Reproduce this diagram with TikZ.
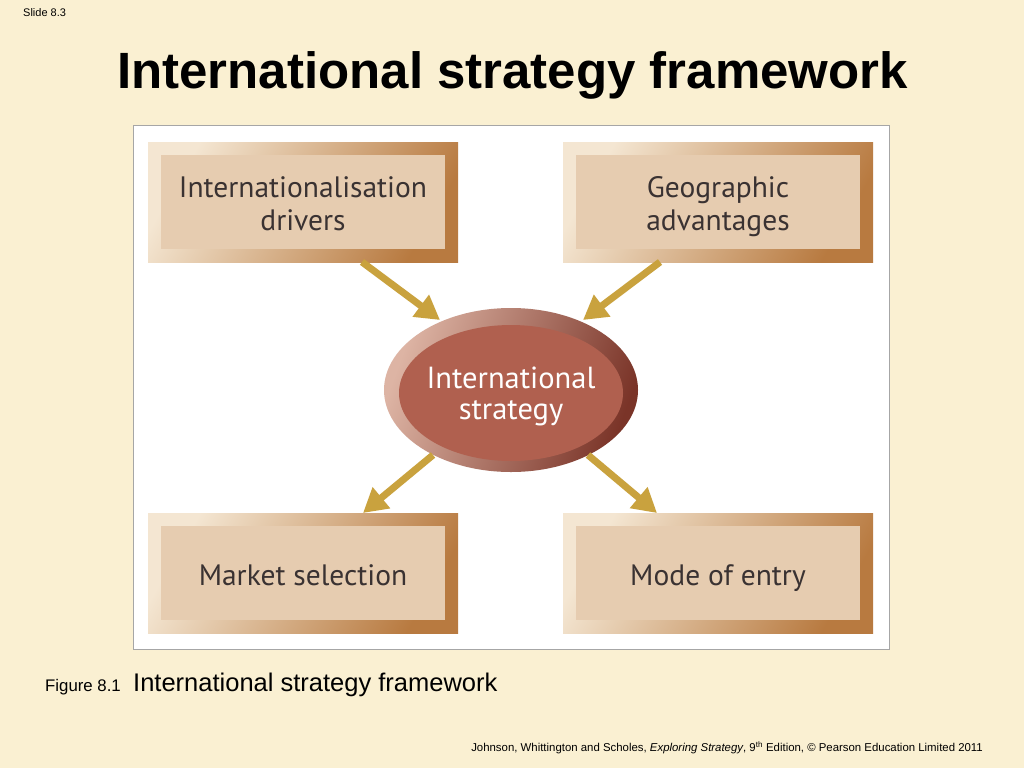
\documentclass[tikz,border=0pt]{standalone}
\usepackage{fontspec}
\setmainfont{Liberation Sans}
\newfontfamily\boxfont{PT Sans}
\usetikzlibrary{arrows.meta,shapes.geometric}
\definecolor{bgcream}{HTML}{FAF0D2}
\definecolor{framebrown}{HTML}{B87A40}
\definecolor{framelight}{HTML}{F4E6D2}
\definecolor{innerfill}{HTML}{E6CCB0}
\definecolor{ringlight}{HTML}{DDB4A4}
\definecolor{ringdark}{HTML}{7A3428}
\definecolor{ellfill}{HTML}{B0604F}
\definecolor{arrowgold}{HTML}{C9A23E}
\definecolor{boxtext}{HTML}{3A3232}
\tikzset{
  outerbox/.style={minimum width=310pt,minimum height=120pt,inner sep=0pt,
    left color=framelight,right color=framebrown,shading angle=60},
  innerbox/.style={minimum width=284pt,minimum height=94pt,inner sep=0pt,fill=innerfill},
  boxlabel/.style={anchor=base,inner sep=0pt,font=\boxfont\fontsize{29.5}{33}\selectfont,text=boxtext},
  ring/.style={ellipse,minimum width=254pt,minimum height=164pt,inner sep=0pt,
    left color=ringlight,right color=ringdark,shading angle=70},
  core/.style={ellipse,minimum width=224pt,minimum height=136pt,inner sep=0pt,fill=ellfill},
  corelabel/.style={anchor=base,inner sep=0pt,font=\boxfont\fontsize{30.5}{33}\selectfont,text=white},
  arr/.style={draw=arrowgold,line width=7pt,-{Triangle[length=24pt,width=26pt]}}
}
\begin{document}
\begin{tikzpicture}[x=1pt,y=-1pt]
\fill[bgcream] (0,0) rectangle (1024,768);
\useasboundingbox (0,0) rectangle (1024,768);
\node[anchor=base west,inner sep=0pt,font=\fontsize{11}{13}\selectfont] (slide) at (23,17) {Slide 8.3};
\node[anchor=base west,font=\bfseries\fontsize{51}{60}\selectfont,inner sep=0pt] (title) at (117,88) {International strategy framework};
\node[draw=black!35,line width=0.8pt,fill=white,minimum width=756pt,minimum height=524pt,inner sep=0pt] (panel) at (511,387) {};
% boxes
\node[outerbox] (b1o) at (303,202) {};
\node[innerbox] (b1) at (303,202) {};
\node[boxlabel] (b1t1) at (303,197) {Internationalisation};
\node[boxlabel] (b1t2) at (303,230) {drivers};
\node[outerbox] (b2o) at (718,202) {};
\node[innerbox] (b2) at (718,202) {};
\node[boxlabel] (b2t1) at (718,197) {Geographic};
\node[boxlabel] (b2t2) at (718,230) {advantages};
\node[outerbox] (b3o) at (303,573) {};
\node[innerbox] (b3) at (303,573) {};
\node[boxlabel] (b3t) at (303,585) {Market selection};
\node[outerbox] (b4o) at (718,573) {};
\node[innerbox] (b4) at (718,573) {};
\node[boxlabel] (b4t) at (718,585) {Mode of entry};
% ellipse
\node[ring] (ringe) at (511,390) {};
\node[core] (strat) at (511,393) {};
\node[corelabel] (st1) at (511,388) {International};
\node[corelabel] (st2) at (511,419) {strategy};
% arrows
\coordinate (a1s) at (362,262); \coordinate (a1e) at (440,320);
\coordinate (a2s) at (660,262); \coordinate (a2e) at (583,320);
\coordinate (a3s) at (433,455); \coordinate (a3e) at (363,513);
\coordinate (a4s) at (588,455); \coordinate (a4e) at (657,513);
\draw[arr] (a1s) -- (a1e);
\draw[arr] (a2s) -- (a2e);
\draw[arr] (a3s) -- (a3e);
\draw[arr] (a4s) -- (a4e);
% captions
\node[anchor=base west,font=\fontsize{16.8}{19}\selectfont,inner sep=0pt] (figno) at (45,691) {Figure 8.1};
\node[anchor=base west,font=\fontsize{25.5}{30}\selectfont,inner sep=0pt] (figcap) at (133,691) {International strategy framework};
\node[anchor=base east,font=\fontsize{11.4}{13}\selectfont,inner sep=0pt] (footer) at (983,751) {Johnson, Whittington and Scholes, \textit{Exploring Strategy}, 9\textsuperscript{th} Edition, \textcopyright{} Pearson Education Limited 2011};
\end{tikzpicture}
\end{document}
